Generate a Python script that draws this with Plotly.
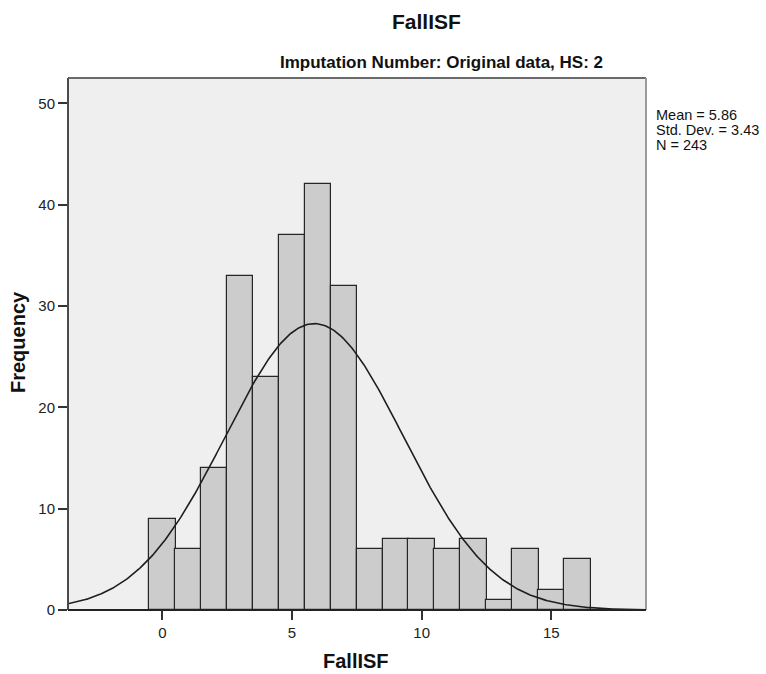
import numpy as np
import plotly.graph_objects as go

bin_centers = list(range(0, 17))
counts = [9, 6, 14, 33, 23, 37, 42, 32, 6, 7, 7, 6, 7, 1, 6, 2, 5]
mean_val = 5.86
std_val = 3.43
n_val = 243
x_ticks = [0, 5, 10, 15]
y_ticks = [0, 10, 20, 30, 40, 50]
stats_lines = ["Mean = 5.86", "Std. Dev. = 3.43", "N = 243"]

x_range = [-3.64, 18.65]
y_range = [0, 52.5]

W, H = 766, 674
ML, MR, MT, MB = 68, 120, 78, 64
PW = W - ML - MR
PH = H - MT - MB


def px(xp):
    return (xp - ML) / PW


def py(yp):
    return (H - MB - yp) / PH


xc = np.linspace(x_range[0], x_range[1], 400)
yc = n_val * 1.0 / (std_val * np.sqrt(2 * np.pi)) * np.exp(-0.5 * ((xc - mean_val) / std_val) ** 2)

fig = go.Figure()
fig.add_trace(go.Bar(
    x=bin_centers, y=counts, width=1.02,
    marker=dict(color="#CCCCCC", line=dict(color="#262626", width=1.2)),
    hoverinfo="x+y",
))
fig.add_trace(go.Scatter(
    x=xc, y=yc, mode="lines",
    line=dict(color="#1e1e1e", width=1.6),
    hoverinfo="skip",
))

font_family = "Liberation Sans, Arial, sans-serif"
axis_common = dict(
    ticks="outside", ticklen=9, tickwidth=1.5, tickcolor="#333333",
    showgrid=False, zeroline=False, showline=False,
    tickfont=dict(size=15, color="#222222", family=font_family),
)

annotations = [
    dict(text="<b>FallISF</b>", x=px(426), y=py(22), font=dict(size=21),
         xanchor="center", yanchor="middle"),
    dict(text="<b>Imputation Number: Original data, HS: 2</b>", x=px(441), y=py(63),
         font=dict(size=17), xanchor="center", yanchor="middle"),
    dict(text="<b>FallISF</b>", x=px(356), y=py(661), font=dict(size=20),
         xanchor="center", yanchor="middle"),
    dict(text="<b>Frequency</b>", x=px(18), y=py(342), font=dict(size=20),
         xanchor="center", yanchor="middle", textangle=-90),
]
for i, line in enumerate(stats_lines):
    annotations.append(dict(text=line, x=px(654), y=py(115 + 14.8 * i),
                            font=dict(size=14.5), xanchor="left", yanchor="middle"))
for a in annotations:
    a.update(xref="paper", yref="paper", showarrow=False)

shapes = [
    dict(type="line", xref="paper", yref="paper", x0=0, x1=1, y0=1, y1=1,
         line=dict(color="#6a6a6a", width=2)),
    dict(type="line", xref="paper", yref="paper", x0=1, x1=1, y0=0, y1=1,
         line=dict(color="#9a9a9a", width=2)),
    dict(type="line", xref="paper", yref="paper", x0=0, x1=0, y0=0, y1=1,
         line=dict(color="#4a4a4a", width=2)),
    dict(type="line", xref="paper", yref="paper", x0=0, x1=1, y0=0, y1=0,
         line=dict(color="#222222", width=2)),
]

fig.update_layout(
    width=W, height=H,
    margin=dict(l=ML, r=MR, t=MT, b=MB),
    paper_bgcolor="white",
    plot_bgcolor="#EFEFEF",
    showlegend=False,
    bargap=0,
    font=dict(family=font_family, size=13, color="#111111"),
    xaxis=dict(range=x_range, tickvals=x_ticks, **axis_common),
    yaxis=dict(range=y_range, tickvals=y_ticks, **axis_common),
    annotations=annotations,
    shapes=shapes,
)

fig.write_html("out.html")
